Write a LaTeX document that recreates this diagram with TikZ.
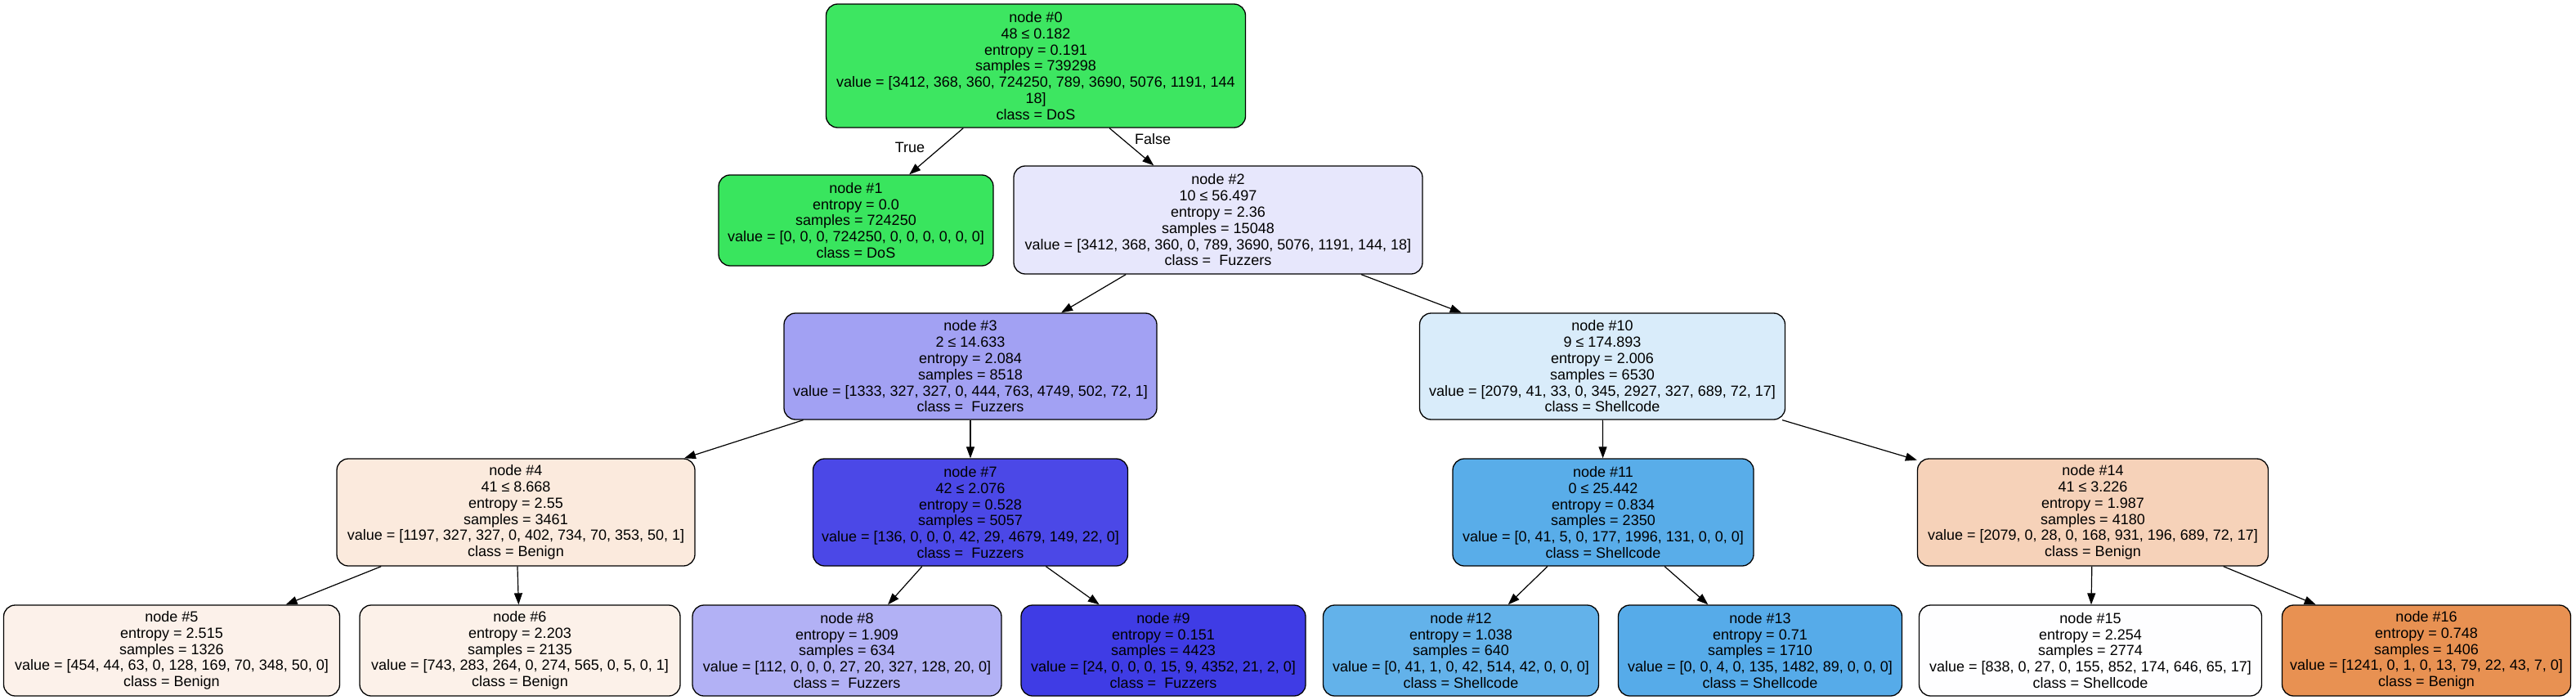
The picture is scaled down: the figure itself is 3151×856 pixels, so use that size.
\documentclass[tikz,border=0pt]{standalone}
\usepackage{fontspec}
\setmainfont{Liberation Sans}
\usetikzlibrary{arrows.meta}
\definecolor{c0}{HTML}{3DE661}
\definecolor{c1}{HTML}{39E55E}
\definecolor{c2}{HTML}{E7E7FC}
\definecolor{c3}{HTML}{A2A1F3}
\definecolor{c4}{HTML}{FBEADD}
\definecolor{c5}{HTML}{FCF1EA}
\definecolor{c6}{HTML}{FCF1E9}
\definecolor{c7}{HTML}{4B48E7}
\definecolor{c8}{HTML}{B2B1F5}
\definecolor{c9}{HTML}{3F3CE5}
\definecolor{c10}{HTML}{D9ECFA}
\definecolor{c11}{HTML}{59ADE9}
\definecolor{c12}{HTML}{63B2EA}
\definecolor{c13}{HTML}{56ABE9}
\definecolor{c14}{HTML}{F6D2B9}
\definecolor{c15}{HTML}{FEFEFF}
\definecolor{c16}{HTML}{E89152}
\begin{document}
\begin{tikzpicture}[x=1pt,y=-1pt,
  treebox/.style={draw=black,line width=1.3pt,rounded corners=14pt,align=center,
    inner sep=0pt,font=\fontsize{18}{19.8}\selectfont},
  edge/.style={draw=black,line width=1.2pt,-{Triangle[length=14pt,width=10pt]}},
  lbl/.style={font=\fontsize{18}{19.8}\selectfont,inner sep=0pt}]
\path[use as bounding box,fill=white] (0,0) rectangle (3151,856);

\node[treebox,fill=c0,minimum width=513pt,minimum height=151pt] (n0) at (1267,80.5)
 {node \#0\\48 ≤ 0.182\\entropy = 0.191\\samples = 739298\\value = [3412, 368, 360, 724250, 789, 3690, 5076, 1191, 144\\18]\\class = DoS};
\node[treebox,fill=c1,minimum width=336pt,minimum height=111pt] (n1) at (1047,269.5)
 {node \#1\\entropy = 0.0\\samples = 724250\\value = [0, 0, 0, 724250, 0, 0, 0, 0, 0, 0]\\class = DoS};
\node[treebox,fill=c2,minimum width=500pt,minimum height=132pt] (n2) at (1490,269)
 {node \#2\\10 ≤ 56.497\\entropy = 2.36\\samples = 15048\\value = [3412, 368, 360, 0, 789, 3690, 5076, 1191, 144, 18]\\class = \ Fuzzers};
\node[treebox,fill=c3,minimum width=456pt,minimum height=130pt] (n3) at (1187,448)
 {node \#3\\2 ≤ 14.633\\entropy = 2.084\\samples = 8518\\value = [1333, 327, 327, 0, 444, 763, 4749, 502, 72, 1]\\class = \ Fuzzers};
\node[treebox,fill=c10,minimum width=447pt,minimum height=130pt] (n10) at (1960,448)
 {node \#10\\9 ≤ 174.893\\entropy = 2.006\\samples = 6530\\value = [2079, 41, 33, 0, 345, 2927, 327, 689, 72, 17]\\class = Shellcode};
\node[treebox,fill=c4,minimum width=438pt,minimum height=131pt] (n4) at (631,626.5)
 {node \#4\\41 ≤ 8.668\\entropy = 2.55\\samples = 3461\\value = [1197, 327, 327, 0, 402, 734, 70, 353, 50, 1]\\class = Benign};
\node[treebox,fill=c7,minimum width=385pt,minimum height=131pt] (n7) at (1187,626.5)
 {node \#7\\42 ≤ 2.076\\entropy = 0.528\\samples = 5057\\value = [136, 0, 0, 0, 42, 29, 4679, 149, 22, 0]\\class = \ Fuzzers};
\node[treebox,fill=c11,minimum width=368pt,minimum height=131pt] (n11) at (1961,626.5)
 {node \#11\\0 ≤ 25.442\\entropy = 0.834\\samples = 2350\\value = [0, 41, 5, 0, 177, 1996, 131, 0, 0, 0]\\class = Shellcode};
\node[treebox,fill=c14,minimum width=429pt,minimum height=131pt] (n14) at (2560,626.5)
 {node \#14\\41 ≤ 3.226\\entropy = 1.987\\samples = 4180\\value = [2079, 0, 28, 0, 168, 931, 196, 689, 72, 17]\\class = Benign};
\node[treebox,fill=c5,minimum width=411pt,minimum height=111pt] (n5) at (210,795.5)
 {node \#5\\entropy = 2.515\\samples = 1326\\value = [454, 44, 63, 0, 128, 169, 70, 348, 50, 0]\\class = Benign};
\node[treebox,fill=c6,minimum width=392pt,minimum height=111pt] (n6) at (636,795.5)
 {node \#6\\entropy = 2.203\\samples = 2135\\value = [743, 283, 264, 0, 274, 565, 0, 5, 0, 1]\\class = Benign};
\node[treebox,fill=c8,minimum width=378pt,minimum height=111pt] (n8) at (1036,795.5)
 {node \#8\\entropy = 1.909\\samples = 634\\value = [112, 0, 0, 0, 27, 20, 327, 128, 20, 0]\\class = \ Fuzzers};
\node[treebox,fill=c9,minimum width=348pt,minimum height=111pt] (n9) at (1423,795.5)
 {node \#9\\entropy = 0.151\\samples = 4423\\value = [24, 0, 0, 0, 15, 9, 4352, 21, 2, 0]\\class = \ Fuzzers};
\node[treebox,fill=c12,minimum width=337pt,minimum height=111pt] (n12) at (1787,795.5)
 {node \#12\\entropy = 1.038\\samples = 640\\value = [0, 41, 1, 0, 42, 514, 42, 0, 0, 0]\\class = Shellcode};
\node[treebox,fill=c13,minimum width=347pt,minimum height=111pt] (n13) at (2153,795.5)
 {node \#13\\entropy = 0.71\\samples = 1710\\value = [0, 0, 4, 0, 135, 1482, 89, 0, 0, 0]\\class = Shellcode};
\node[treebox,fill=c15,minimum width=419pt,minimum height=111pt] (n15) at (2557,795.5)
 {node \#15\\entropy = 2.254\\samples = 2774\\value = [838, 0, 27, 0, 155, 852, 174, 646, 65, 17]\\class = Shellcode};
\node[treebox,fill=c16,minimum width=353pt,minimum height=111pt] (n16) at (2968,795.5)
 {node \#16\\entropy = 0.748\\samples = 1406\\value = [1241, 0, 1, 0, 13, 79, 22, 43, 7, 0]\\class = Benign};

\draw[edge] (n0) -- (n1);
\draw[edge] (n0) -- (n2);
\draw[edge] (n2) -- (n3);
\draw[edge] (n2) -- (n10);
\draw[edge] (n3) -- (n4);
\draw[edge] (n3) -- (n7);
\draw[edge] (n4) -- (n5);
\draw[edge] (n4) -- (n6);
\draw[edge] (n7) -- (n8);
\draw[edge] (n7) -- (n9);
\draw[edge] (n10) -- (n11);
\draw[edge] (n10) -- (n14);
\draw[edge] (n11) -- (n12);
\draw[edge] (n11) -- (n13);
\draw[edge] (n14) -- (n15);
\draw[edge] (n14) -- (n16);

\node[lbl] (tlab) at (1113,180) {True};
\node[lbl] (flab) at (1410,170) {False};
\end{tikzpicture}
\end{document}
